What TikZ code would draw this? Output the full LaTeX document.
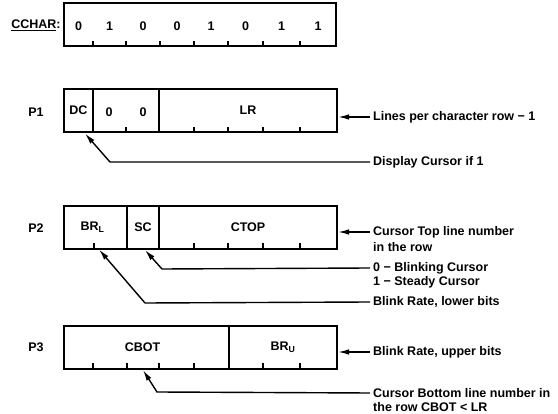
\documentclass[tikz,border=0pt]{standalone}
\usepackage{fontspec}
\setmainfont{Liberation Sans}
\usetikzlibrary{arrows.meta}
\begin{document}
\begin{tikzpicture}[x=1pt,y=-1pt,
  every node/.style={font=\fontsize{12.5}{14}\selectfont\bfseries, inner sep=0pt},
  field/.style={draw, line width=2.1pt, minimum height=43pt},
  tick/.style={line width=1.7pt},
  desc/.style={anchor=west},
  conn/.style={line width=1.4pt, -{Latex[length=11pt,width=5.5pt]}}]
\useasboundingbox[fill=white] (0,0) rectangle (558,414);

% ---------- CCHAR ----------
\node (cclbl) at (36,25) {\underline{CCHAR}:};
\node[field, minimum width=272pt] (cc) at (200,24.5) {};
\foreach \x/\d [count=\i] in {78.5/0,109.5/1,143/0,177/0,211/1,245.5/0,281.5/1,318/1}
  \node (ccd\i) at (\x,26) {\d};
\foreach \x in {93,126,160,194,228,263,300}
  \draw[tick] (\x,46) -- (\x,41);

% ---------- P1 ----------
\node (p1) at (36,112) {P1};
\node[field, minimum width=29pt] (dc) at (78.5,110.5) {DC};
\node[field, minimum width=66pt] (zz) at (126,110.5) {};
\node (z1) at (109,112) {0};
\node (z2) at (143,112) {0};
\node[field, minimum width=178pt] (lr) at (248,110.5) {LR};
\foreach \x in {126,194,228,263,300}
  \draw[tick] (\x,132) -- (\x,127);
\node[desc] (lpc) at (373,117) {Lines per character row − 1};
\draw[conn] ([xshift=-3pt]lpc.west) -- (lpc.west -| lr.east);
\node[desc] (dcc) at (373,162) {Display Cursor if 1};
\coordinate (dcTip) at (85,133.5);
\coordinate (dcElb) at (110,162);
\draw[conn] ([xshift=-3pt]dcc.west) -- (dcElb) -- (dcTip);

% ---------- P2 ----------
\node (p2) at (36,228) {P2};
\node[field, minimum width=63pt] (brl) at (95.5,227.5) {\kern-6pt BR\textsubscript{L}};
\node[field, minimum width=32pt] (sc) at (143,227.5) {SC};
\node[field, minimum width=178pt] (ctop) at (248,227.5) {CTOP};
\foreach \x in {94,194,228,263,300}
  \draw[tick] (\x,248) -- (\x,243);
\node[desc] (ctopa) at (373,232) {Cursor Top line number};
\node[desc] (ctopb) at (373,247) {in the row};
\draw[conn] ([xshift=-3pt]ctopa.west) -- (ctopa.west -| ctop.east);
\node[desc] (sca) at (373,268) {0 − Blinking Cursor};
\node[desc] (scb) at (373,282) {1 − Steady Cursor};
\coordinate (scTip) at (145,250);
\coordinate (scElb) at (162,269);
\draw[conn] ([xshift=-3pt]sca.west) -- (scElb) -- (scTip);
\node[desc] (brla) at (373,302) {Blink Rate, lower bits};
\coordinate (brTip) at (99,249.5);
\coordinate (brElb) at (145,303);
\draw[conn] ([xshift=-3pt]brla.west) -- (brElb) -- (brTip);

% ---------- P3 ----------
\node (p3) at (36,347) {P3};
\node[field, minimum width=165pt] (cbot) at (146.5,347.5) {\kern-8pt CBOT};
\node[field, minimum width=108pt] (bru) at (283,347.5) {BR\textsubscript{U}};
\foreach \x in {93,127,159,194,263,300}
  \draw[tick] (\x,368) -- (\x,363);
\node[desc] (brua) at (373,352) {Blink Rate, upper bits};
\draw[conn] ([xshift=-3pt]brua.west) -- (brua.west -| bru.east);
\node[desc] (cba) at (373,393) {Cursor Bottom line number in};
\node[desc] (cbb) at (373,407) {the row CBOT < LR};
\coordinate (cbTip) at (143,370);
\coordinate (cbElb) at (157,392);
\draw[conn] ([xshift=-3pt]cba.west) -- (cbElb) -- (cbTip);
\end{tikzpicture}
\end{document}
